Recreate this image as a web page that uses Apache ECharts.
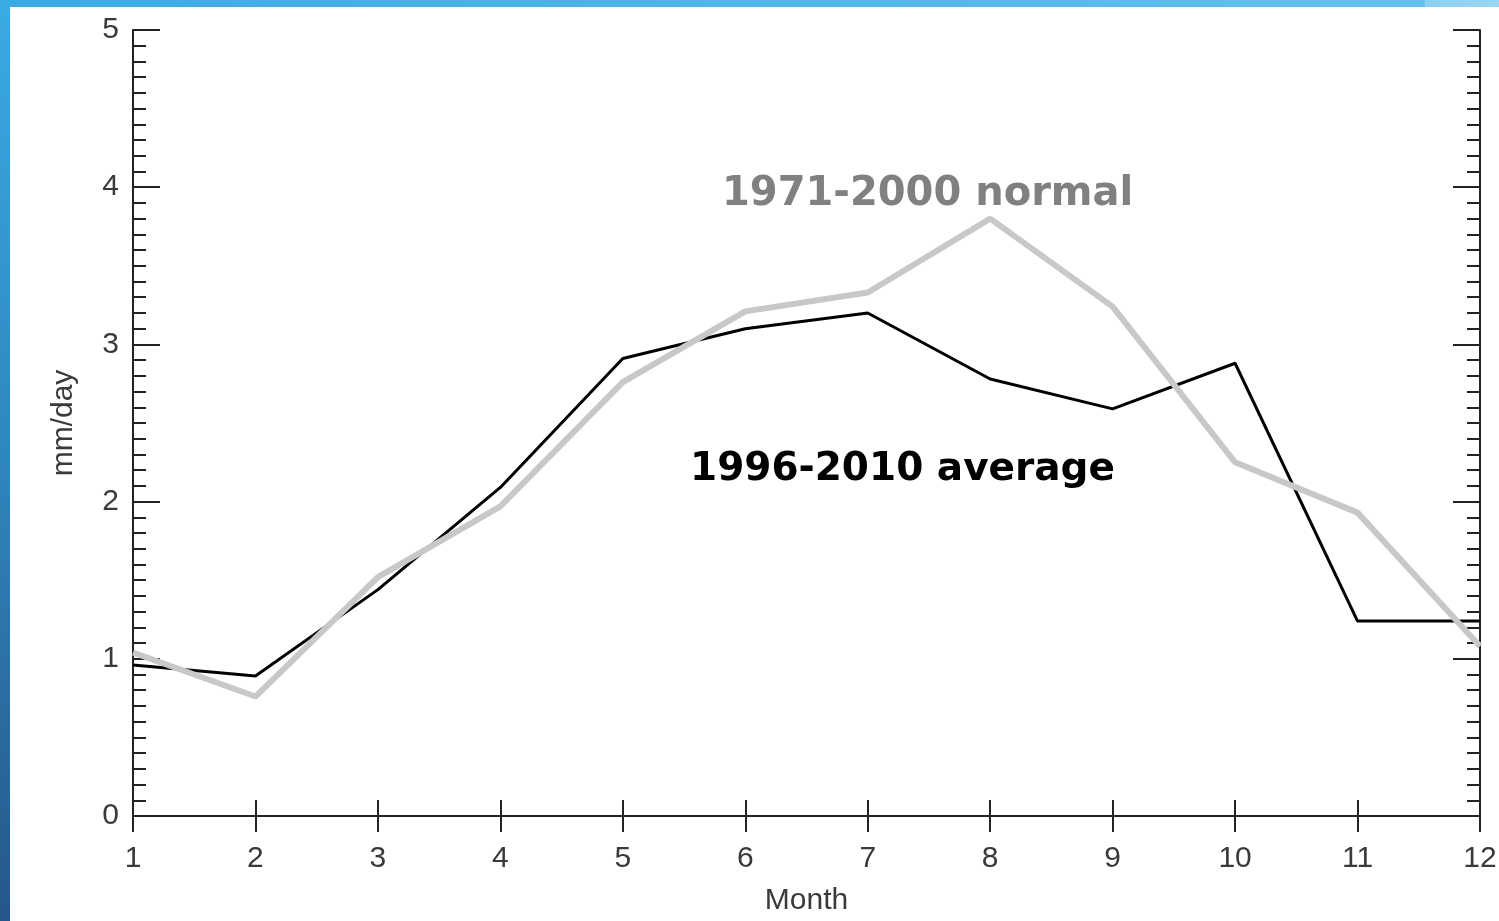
<!DOCTYPE html>
<html>
<head>
<meta charset="utf-8">
<script src="https://cdn.jsdelivr.net/npm/echarts@6/dist/echarts.min.js"></script>
<style>
html,body{margin:0;padding:0;background:#fff;}
#chart{width:1499px;height:921px;}
</style>
</head>
<body>
<div id="chart"></div>
<script>
const months = [1, 2, 3, 4, 5, 6, 7, 8, 9, 10, 11, 12];
const avg1996_2010 = [0.96, 0.89, 1.44, 2.09, 2.91, 3.10, 3.20, 2.78, 2.59, 2.88, 1.24, 1.24];
const normal1971_2000 = [1.04, 0.76, 1.52, 1.97, 2.76, 3.21, 3.33, 3.80, 3.24, 2.25, 1.93, 1.08];
const yTicks = [0, 1, 2, 3, 4, 5];
const xTicks = months;

const chart = echarts.init(document.getElementById('chart'));
const tickFont = {fontFamily: 'Liberation Sans', fontSize: 30, color: '#3a3a3a'};
const axisCol = '#222';

const option = {
  backgroundColor: '#fff',
  animation: false,
  grid: {left: 133, right: 19, top: 30, bottom: 105, containLabel: false, outerBoundsMode: 'none'},
  xAxis: [
    {
      type: 'value', min: 1, max: 12, interval: 1,
      name: 'Month', nameLocation: 'middle', nameGap: 70,
      nameTextStyle: {fontFamily: 'Liberation Sans', fontSize: 30, color: '#3a3a3a'},
      axisLine: {lineStyle: {color: axisCol, width: 2}},
      axisTick: {inside: true, length: 16, lineStyle: {color: axisCol, width: 2}},
      axisLabel: Object.assign({margin: 28, formatter: v => xTicks.includes(v) ? String(v) : ''}, tickFont),
      splitLine: {show: false}
    },
    {
      type: 'value', min: 1, max: 12, interval: 1, position: 'top',
      axisLine: {lineStyle: {color: axisCol, width: 2}},
      axisTick: {inside: true, length: 16, lineStyle: {color: axisCol, width: 2}},
      axisLabel: {show: false},
      splitLine: {show: false}
    }
  ],
  yAxis: [
    {
      type: 'value', min: 0, max: 5, interval: 1,
      name: 'mm/day', nameLocation: 'middle', nameGap: 54, nameRotate: 90,
      nameTextStyle: {fontFamily: 'Liberation Sans', fontSize: 30, color: '#3a3a3a'},
      axisLine: {show: true, lineStyle: {color: axisCol, width: 2}},
      axisTick: {show: true, inside: true, length: 27, lineStyle: {color: axisCol, width: 2}},
      minorTick: {show: true, splitNumber: 10, length: 13, lineStyle: {color: axisCol, width: 2}},
      axisLabel: Object.assign({margin: 14, formatter: v => yTicks.includes(v) ? String(v) : ''}, tickFont),
      splitLine: {show: false}
    },
    {
      type: 'value', min: 0, max: 5, interval: 1, position: 'right',
      axisLine: {show: true, lineStyle: {color: axisCol, width: 2}},
      axisTick: {show: true, inside: true, length: 27, lineStyle: {color: axisCol, width: 2}},
      minorTick: {show: true, splitNumber: 10, length: 13, lineStyle: {color: axisCol, width: 2}},
      axisLabel: {show: false},
      splitLine: {show: false}
    }
  ],
  series: [
    {
      name: '1996-2010 average', type: 'line', symbol: 'none',
      data: months.map((m, i) => [m, avg1996_2010[i]]),
      lineStyle: {color: '#000', width: 3}, z: 3
    },
    {
      name: '1971-2000 normal', type: 'line', symbol: 'none',
      data: months.map((m, i) => [m, normal1971_2000[i]]),
      lineStyle: {color: '#c8c8c8', width: 6}, z: 4
    }
  ],
  graphic: [
    {
      type: 'rect', z: 100, shape: {x: 0, y: 0, width: 1499, height: 7},
      style: {fill: {type: 'linear', x: 0, y: 0, x2: 1, y2: 0, colorStops: [
        {offset: 0, color: '#3aabe3'}, {offset: 0.95, color: '#62c1ee'},
        {offset: 0.951, color: '#8bd0f1'}, {offset: 1, color: '#9ad6f2'}]}}
    },
    {
      type: 'rect', z: 100, shape: {x: 0, y: 0, width: 10, height: 921},
      style: {fill: {type: 'linear', x: 0, y: 0, x2: 0, y2: 1, colorStops: [
        {offset: 0, color: '#3aabe3'}, {offset: 0.5, color: '#2f86bd'}, {offset: 1, color: '#275688'}]}}
    },
    {
      type: 'text', z: 50, left: 722, top: 175,
      style: {text: '1971-2000 normal', fill: '#808080', font: 'bold 40px "DejaVu Sans"'}
    },
    {
      type: 'text', z: 50, left: 690, top: 450,
      style: {text: '1996-2010 average', fill: '#000', font: 'bold 39px "DejaVu Sans"'}
    }
  ]
};
chart.setOption(option);
</script>
</body>
</html>
